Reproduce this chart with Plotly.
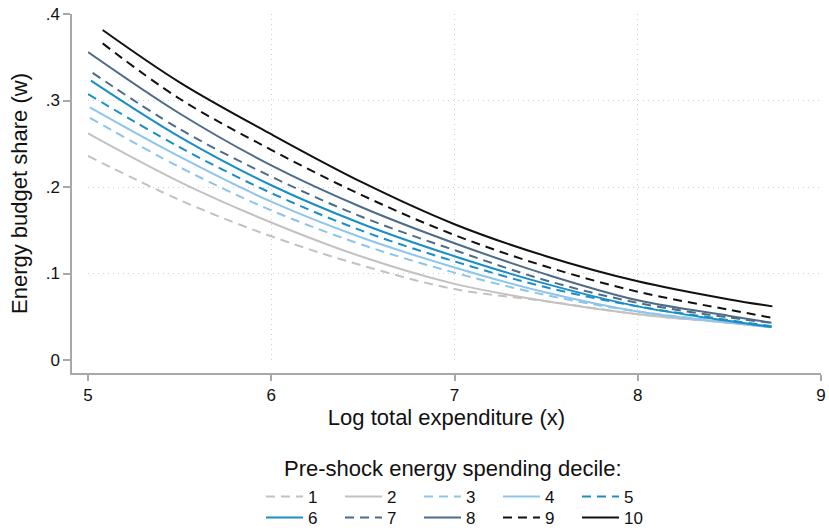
import plotly.graph_objects as go

# ---- data ----
deciles = ["1", "2", "3", "4", "5", "6", "7", "8", "9", "10"]
x_start = [5.0, 5.0, 5.01, 5.01, 5.0, 5.016, 5.025, 5.0, 5.08, 5.08]
x_mid = [5.5, 6.0, 6.5, 7.0, 7.5, 8.0, 8.5]
x_end = [8.73, 8.73, 8.73, 8.73, 8.73, 8.73, 8.73, 8.73, 8.73, 8.735]

w1 = [0.236, 0.185, 0.143, 0.109, 0.082, 0.068, 0.053, 0.043, 0.039]
w2 = [0.262, 0.206, 0.159, 0.119, 0.088, 0.068, 0.053, 0.043, 0.038]
w3 = [0.280, 0.223, 0.173, 0.133, 0.101, 0.075, 0.056, 0.044, 0.039]
w4 = [0.292, 0.235, 0.183, 0.141, 0.107, 0.078, 0.056, 0.043, 0.038]
w5 = [0.3075, 0.246, 0.193, 0.149, 0.114, 0.084, 0.062, 0.046, 0.039]
w6 = [0.323, 0.258, 0.202, 0.157, 0.120, 0.088, 0.062, 0.045, 0.038]
w7 = [0.332, 0.267, 0.212, 0.165, 0.127, 0.092, 0.066, 0.049, 0.043]
w8 = [0.356, 0.285, 0.225, 0.176, 0.135, 0.099, 0.069, 0.051, 0.043]
w9 = [0.366, 0.302, 0.243, 0.190, 0.1445, 0.108, 0.079, 0.058, 0.049]
w10 = [0.3815, 0.321, 0.261, 0.205, 0.157, 0.120, 0.091, 0.070, 0.062]
series = [w1, w2, w3, w4, w5, w6, w7, w8, w9, w10]

colors = ["#c2c2c2", "#c2c2c2", "#8dc5eb", "#8dc5eb", "#1a8ec7", "#1a8ec7",
          "#4d6c88", "#4d6c88", "#111111", "#111111"]
dashed = [True, False, True, False, True, False, True, False, True, False]

y_ticks = [0, 0.1, 0.2, 0.3, 0.4]
y_ticktext = ["0", ".1", ".2", ".3", ".4"]
x_ticks = [5, 6, 7, 8, 9]
x_range = [5, 9]
y_range = [0, 0.4]
legend_title = "Pre-shock energy spending decile:"

FONT = "Liberation Sans, Arial, Helvetica, sans-serif"
AX = "#a8a8a8"
GRID = "#cfcfcf"

# layout geometry (pixels)
W, H = 829, 531
ML, MR, MT, MB = 72, 8, 14, 158
PW, PH = W - ML - MR, H - MT - MB
d0 = 16 / PW          # inset of plot region from y-axis line
e0 = 13 / PH          # inset of plot region from x-axis line
x_lo = x_range[0] - (x_range[1] - x_range[0]) * d0 / (1 - d0)
y_lo = y_range[0] - (y_range[1] - y_range[0]) * e0 / (1 - e0)


def px_x(p):
    return (p - ML) / PW


def px_y(p):
    return (H - MB - p) / PH


fig = go.Figure()
# empty trace so the frame axes (lines, ticks, titles) are drawn
fig.add_trace(go.Scatter(x=[], y=[], xaxis="x", yaxis="y", showlegend=False,
                         hoverinfo="skip", mode="lines"))
for i, name in enumerate(deciles):
    xs = [x_start[i]] + x_mid + [x_end[i]]
    fig.add_trace(go.Scatter(
        x=xs, y=series[i], mode="lines", name=name,
        xaxis="x2", yaxis="y2",
        legend="legend" if i < 5 else "legend2",
        line=dict(color=colors[i], width=2, shape="spline", smoothing=1.0,
                  dash="9px,6px" if dashed[i] else "solid"),
    ))

leg_common = dict(
    orientation="h", xanchor="left", yanchor="middle",
    entrywidth=27, entrywidthmode="pixels", itemwidth=37,
    font=dict(size=17, family=FONT, color="#111111"),
    bgcolor="rgba(0,0,0,0)",
)

fig.update_layout(
    width=W, height=H,
    margin=dict(l=ML, r=MR, t=MT, b=MB, autoexpand=False),
    plot_bgcolor="rgba(0,0,0,0)", paper_bgcolor="white",
    font=dict(family=FONT, size=17, color="#111111"),
    showlegend=True,
    legend=dict(x=px_x(261), y=px_y(497), **leg_common),
    legend2=dict(x=px_x(261), y=px_y(518), **leg_common),
    annotations=[dict(
        text=legend_title, xref="paper", yref="paper",
        x=px_x(453), y=px_y(468), xanchor="center", yanchor="middle",
        showarrow=False, font=dict(size=22, family=FONT, color="#111111"),
    )],
    # frame axes: lines, ticks, labels, titles
    xaxis=dict(
        domain=[0, 1], range=[x_lo, x_range[1]], anchor="y",
        tickvals=x_ticks, ticks="outside", ticklen=6, tickcolor=AX, tickwidth=1.5,
        showline=True, linecolor=AX, linewidth=1.5,
        showgrid=False, zeroline=False,
        title=dict(text="Log total expenditure (x)", font=dict(size=22), standoff=5),
        tickfont=dict(size=17),
    ),
    yaxis=dict(
        domain=[0, 1], range=[y_lo, y_range[1]], anchor="x",
        tickvals=y_ticks, ticktext=y_ticktext, ticks="outside", ticklen=7,
        tickcolor=AX, tickwidth=1.5,
        showline=True, linecolor=AX, linewidth=1.5,
        showgrid=False, zeroline=False,
        title=dict(text="Energy budget share (w)", font=dict(size=22), standoff=12),
        tickfont=dict(size=17),
    ),
    # inner plot region: data + dotted grid
    xaxis2=dict(
        domain=[d0, 1], range=x_range, anchor="y2",
        tickvals=x_ticks, showticklabels=False, ticks="",
        showline=False, zeroline=False,
        showgrid=True, gridcolor=GRID, griddash="1px,4px", gridwidth=1,
    ),
    yaxis2=dict(
        domain=[e0, 1], range=y_range, anchor="x2",
        tickvals=y_ticks, showticklabels=False, ticks="",
        showline=False, zeroline=False,
        showgrid=True, gridcolor=GRID, griddash="1px,4px", gridwidth=1,
    ),
)

fig.write_html("out.html")
